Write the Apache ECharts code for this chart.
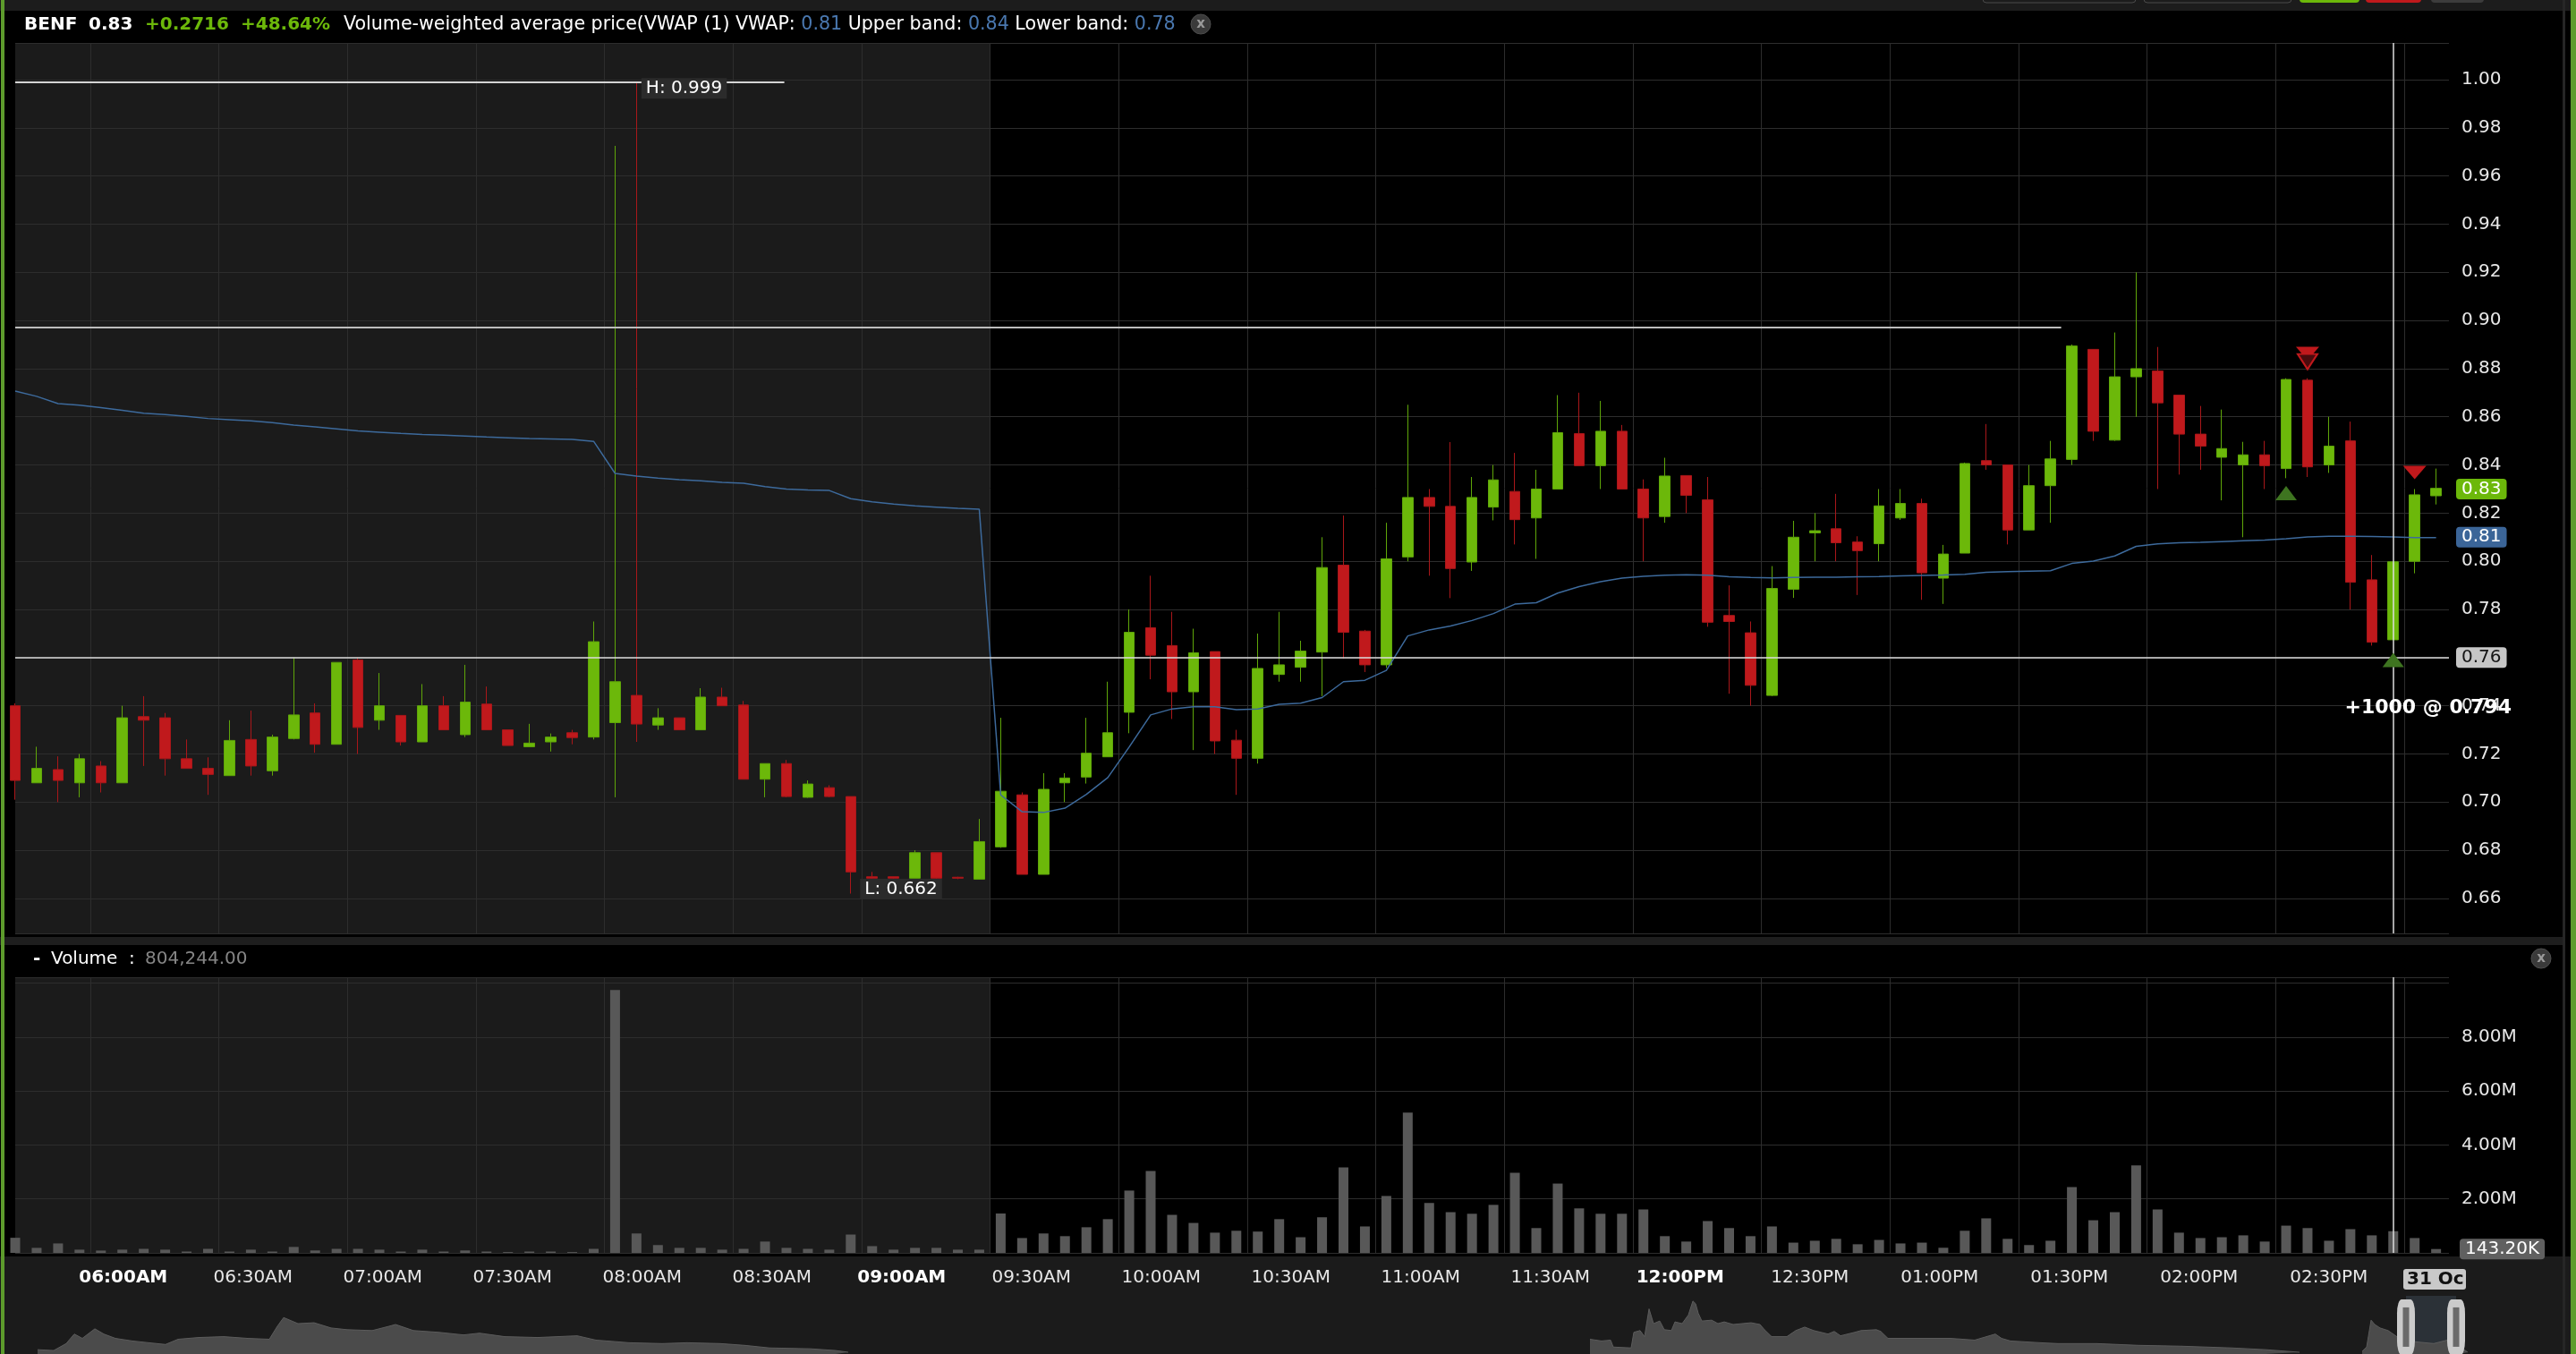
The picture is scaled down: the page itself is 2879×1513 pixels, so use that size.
<!DOCTYPE html>
<html>
<head>
<meta charset="utf-8">
<title>BENF intraday</title>
<script src="https://cdn.jsdelivr.net/npm/echarts@6/dist/echarts.min.js"></script>
<style>
html,body{margin:0;padding:0;background:#000;overflow:hidden;}
#chart{width:2879px;height:1513px;}
</style>
</head>
<body>
<div id="chart"></div>
<script>
// ================= DATA =================
const symbolName = 'BENF';
const firstBarMinute = 5 * 60 + 40;   // 05:40, 5-minute bars
const barMinutes = 5;

const opens = [0.740,0.708,0.7135,0.708,0.715,0.708,0.7355,0.735,0.718,0.714,
0.711,0.726,0.713,0.7264,0.737,0.724,0.759,0.734,0.736,0.725,
0.740,0.728,0.7407,0.730,0.723,0.725,0.7288,0.727,0.733,0.7443,
0.732,0.735,0.730,0.7436,0.7403,0.7095,0.716,0.702,0.706,0.7023,
0.669,0.669,0.6684,0.679,0.6688,0.668,0.6814,0.703,0.670,0.708,
0.7104,0.7188,0.7373,0.7724,0.765,0.7458,0.7625,0.7257,0.7182,0.753,
0.756,0.7623,0.7984,0.771,0.757,0.8018,0.8265,0.8228,0.7997,0.8225,
0.829,0.818,0.830,0.853,0.8397,0.854,0.830,0.8186,0.8356,0.8255,
0.7775,0.7703,0.7443,0.7884,0.8118,0.8135,0.808,0.8073,0.818,0.824,
0.793,0.8034,0.8418,0.840,0.813,0.8314,0.8423,0.888,0.8503,0.8766,
0.879,0.869,0.8528,0.8432,0.840,0.8442,0.8385,0.8752,0.840,0.850,
0.7923,0.7674,0.800,0.8272];

const closes = [0.709,0.714,0.709,0.718,0.708,0.735,0.734,0.718,0.714,0.7115,
0.7256,0.715,0.727,0.7362,0.724,0.758,0.731,0.740,0.725,0.740,
0.730,0.7415,0.730,0.7235,0.7245,0.727,0.7268,0.7666,0.750,0.7324,
0.735,0.730,0.7436,0.740,0.7095,0.716,0.7023,0.7075,0.7023,0.671,
0.6684,0.6684,0.679,0.6684,0.6684,0.6836,0.7045,0.670,0.7053,0.710,
0.7203,0.7288,0.7705,0.761,0.7458,0.762,0.7254,0.7182,0.7555,0.757,
0.7627,0.7974,0.7705,0.757,0.801,0.8265,0.8228,0.797,0.8265,0.8338,
0.8173,0.830,0.8534,0.8397,0.854,0.830,0.818,0.8354,0.8274,0.7747,
0.775,0.7485,0.7887,0.810,0.8127,0.8077,0.8044,0.823,0.824,0.7952,
0.803,0.8406,0.840,0.813,0.8314,0.8425,0.8894,0.854,0.8766,0.880,
0.8658,0.8528,0.8478,0.8468,0.8442,0.8397,0.8755,0.8392,0.8478,0.7913,
0.7664,0.7998,0.8276,0.8303];

const lows = [0.701,0.708,0.700,0.702,0.704,0.708,0.715,0.711,0.714,0.703,
0.711,0.711,0.711,0.726,0.7205,0.724,0.720,0.730,0.7235,0.725,
0.730,0.727,0.730,0.7235,0.723,0.721,0.724,0.726,0.702,0.725,
0.730,0.730,0.730,0.740,0.7095,0.702,0.702,0.7018,0.702,0.662,
0.668,0.668,0.6684,0.668,0.668,0.668,0.681,0.670,0.670,0.700,
0.7077,0.7188,0.7286,0.751,0.7345,0.7216,0.720,0.703,0.716,0.750,
0.750,0.744,0.7595,0.754,0.7557,0.800,0.794,0.7847,0.796,0.817,
0.807,0.801,0.830,0.8397,0.830,0.830,0.800,0.816,0.820,0.7728,
0.745,0.740,0.744,0.7848,0.800,0.800,0.786,0.800,0.8172,0.784,
0.7823,0.8034,0.838,0.807,0.813,0.816,0.840,0.850,0.850,0.860,
0.830,0.836,0.838,0.8253,0.810,0.830,0.8345,0.835,0.8367,0.780,
0.765,0.7674,0.795,0.8236];

const highs = [0.741,0.723,0.719,0.720,0.717,0.740,0.744,0.737,0.726,0.7186,
0.734,0.738,0.728,0.760,0.741,0.758,0.760,0.7536,0.736,0.749,
0.744,0.757,0.748,0.730,0.7325,0.7285,0.730,0.775,0.9725,0.999,
0.739,0.735,0.7473,0.7475,0.742,0.716,0.7175,0.709,0.707,0.7023,
0.671,0.669,0.680,0.679,0.669,0.693,0.735,0.704,0.712,0.712,
0.735,0.750,0.780,0.794,0.779,0.772,0.7625,0.730,0.770,0.779,
0.767,0.810,0.819,0.7715,0.816,0.865,0.830,0.8495,0.835,0.840,
0.845,0.838,0.869,0.870,0.8666,0.8566,0.834,0.843,0.8356,0.835,
0.790,0.775,0.798,0.8168,0.820,0.828,0.8104,0.830,0.830,0.826,
0.8068,0.841,0.857,0.840,0.840,0.850,0.890,0.888,0.895,0.920,
0.889,0.869,0.8645,0.863,0.8496,0.850,0.876,0.876,0.860,0.858,
0.8026,0.800,0.830,0.8385];

const vwap = [0.8707,0.8685,0.8655,0.8648,0.8638,0.8627,0.8615,0.8609,0.8602,0.8593,
0.8588,0.8583,0.8576,0.8566,0.8558,0.855,0.8541,0.8536,0.8531,0.8527,
0.8524,0.852,0.8516,0.8513,0.851,0.8508,0.8506,0.8498,0.8365,0.8354,
0.8345,0.8339,0.8334,0.8328,0.8324,0.831,0.83,0.8296,0.8294,0.826,
0.8247,0.8238,0.823,0.8225,0.822,0.8216,0.703,0.696,0.6957,0.6975,
0.7032,0.7102,0.7229,0.7362,0.7387,0.7396,0.7396,0.7384,0.7387,0.7406,
0.7411,0.7434,0.75,0.7506,0.7547,0.769,0.7715,0.7731,0.7754,0.7783,
0.7822,0.7828,0.7868,0.7895,0.7915,0.793,0.7938,0.7942,0.7944,0.7942,
0.7936,0.7933,0.7931,0.7933,0.7934,0.7934,0.7936,0.7937,0.7939,0.7941,
0.7943,0.7946,0.7954,0.7957,0.7959,0.7961,0.7991,0.8001,0.8022,0.8062,
0.8072,0.8077,0.8079,0.8082,0.8085,0.8088,0.8094,0.8101,0.8104,0.8104,
0.8103,0.8101,0.8098,0.8098];

const volumes = [560000,186000,350000,120000,86000,120000,150000,120000,50000,150000,
50000,120000,50000,220000,90000,150000,150000,120000,50000,120000,
50000,90000,50000,30000,50000,50000,30000,150000,9750000,720000,
290000,186000,186000,120000,150000,420000,186000,150000,120000,680000,
250000,120000,186000,186000,120000,120000,1460000,550000,720000,620000,
950000,1250000,2310000,3040000,1410000,1110000,750000,820000,790000,1250000,
580000,1320000,3170000,980000,2110000,5200000,1850000,1510000,1450000,1780000,
2970000,920000,2570000,1650000,1450000,1450000,1610000,620000,420000,1180000,
920000,620000,980000,380000,450000,520000,320000,480000,350000,380000,
190000,820000,1280000,520000,290000,450000,2440000,1210000,1510000,3240000,
1610000,750000,550000,580000,650000,420000,1010000,920000,450000,880000,
650000,804244,550000,143200];

const xTickTimes = ['06:00','06:30','07:00','07:30','08:00','08:30','09:00','09:30','10:00',
  '10:30','11:00','11:30','12:00','12:30','13:00','13:30','14:00','14:30'];
const xTickTexts = ['06:00AM','06:30AM','07:00AM','07:30AM','08:00AM','08:30AM','09:00AM','09:30AM','10:00AM',
  '10:30AM','11:00AM','11:30AM','12:00PM','12:30PM','01:00PM','01:30PM','02:00PM','02:30PM'];
const boldTickTexts = ['06:00AM','09:00AM','12:00PM'];
const extraGridTimes = ['15:00'];
const sessionOpenTime = '09:30';
const dateTag = '31 Oc';

// trade signals (arrow markers) and the order note
const signals = [
  {k:106, side:'buy',  at:0.8283},
  {k:107, side:'sell', at:0.8863},
  {k:107, side:'sell2',at:0.8829},
  {k:111, side:'buy',  at:0.7590},
  {k:112, side:'sell', at:0.8369}
];
const orders = [{k:111, qty:1000, price:0.794, labelAt:0.7391}];
const crosshair = {k:111, price:0.758};
const refLevel = {price:0.897, toK:95.5};
const hiLineToK = 35.9;

const headerStats = {last:'0.83', change:'+0.2716', pct:'+48.64%', vwapTitle:'Volume-weighted average price(VWAP (1) VWAP: ', vwap:'0.81', upper:'0.84', lower:'0.78'};

// navigator mountain: [position along strip, level]
const navPoints = [
 [42,5],[60,4],[74,12],[83,23],[92,18],[106,29],[116,23],[129,18],[148,15],[166,13],[185,11],[199,17],[222,19],[250,20],[277,18],[301,17],[310,32],[317,42],[333,35],[351,36],[370,30],[388,28],[416,27],[435,32],[442,34],[462,27],[490,25],[518,22],[536,24],[564,20],[601,19],[645,21],[666,16],[703,13],[740,12],[768,13],[805,12],[832,10],[860,7],[906,6],[934,4],[948,2],
 [960,null],
 [1777,17],[1790,15],[1800,16],[1803,8],[1823,7],[1826,25],[1833,27],[1838,20],[1843,52],[1848,35],[1855,38],[1860,28],[1868,27],[1872,37],[1880,35],[1887,45],[1892,61],[1895,58],[1898,47],[1902,38],[1913,39],[1920,35],[1927,37],[1937,34],[1957,36],[1967,34],[1972,28],[1980,20],[1997,20],[2007,27],[2017,31],[2027,27],[2043,23],[2050,26],[2057,21],[2073,25],[2080,27],[2097,28],[2102,26],[2110,18],[2130,18],[2147,18],[2180,18],[2207,16],[2230,23],[2237,18],[2247,15],[2280,13],[2300,12],[2343,12],[2390,10],[2438,9],[2494,7],[2532,5],[2570,2],
 [2600,null],
 [2640,3],[2645,8],[2650,39],[2654,34],[2660,30],[2669,27],[2683,17],[2700,14],[2720,12],[2739,17],[2750,8],[2758,2]
];
const navWindow = [2689, 2745];

// ================= BUILD =================
const FONT = 'DejaVu Sans';
const N = opens.length;
const categories = opens.map((_, i) => {
  const m = firstBarMinute + i * barMinutes;
  return String(Math.floor(m / 60)).padStart(2, '0') + ':' + String(m % 60).padStart(2, '0');
});
const gridBounds = xTickTimes.concat(extraGridTimes).map(t => [categories.indexOf(t) - 0.5, 0]);
const premarketEnd = categories.indexOf(sessionOpenTime) - 0.5;

const hiVal = Math.max(...highs), hiIdx = highs.indexOf(hiVal);
const loVal = Math.min(...lows), loIdx = lows.indexOf(loVal);
const lastClose = closes[N - 1];
const lastVwap = vwap[N - 1];
const lastVol = volumes[N - 1];

const GREEN = '#6cb80a', RED = '#c0191c', BLUE = '#3d6a9c';
const GRID_COLOR = '#2d2d2d';
const CLEAR = 'rgba(0,0,0,0)';

function shadeItem(params, api) {
  const cs = params.coordSys;
  const x0 = api.coord([api.value(0), api.value(1)])[0];
  const x1 = api.coord([api.value(2), api.value(1)])[0];
  return {type: 'rect', shape: {x: x0, y: cs.y, width: x1 - x0, height: cs.height}, style: {fill: '#1b1b1b'}};
}
function vlineItem(params, api) {
  const cs = params.coordSys;
  const x = Math.round(api.coord([api.value(0), api.value(1)])[0]) + 0.5;
  return {type: 'line', shape: {x1: x, y1: cs.y, x2: x, y2: cs.y + cs.height}, style: {stroke: GRID_COLOR, lineWidth: 1}};
}

function badge(bg, fg) {
  return {show: true, position: 'end', distance: 8, color: fg, backgroundColor: bg, borderRadius: 4,
          padding: [1, 6, 0, 6], fontSize: 20, fontFamily: FONT, lineHeight: 22, opacity: 1};
}
const solid = (c, w) => ({color: c, width: w, type: 'solid'});

const signalPoints = [];
signals.forEach(s => {
  if (s.side === 'buy') {
    signalPoints.push({coord: [s.k, s.at], symbol: 'triangle', symbolSize: [24, 16], itemStyle: {color: '#3e7420'}});
  } else if (s.side === 'sell') {
    signalPoints.push({coord: [s.k, s.at], symbol: 'triangle', symbolRotate: 180, symbolSize: [26, 15], itemStyle: {color: RED}});
  } else {
    signalPoints.push({coord: [s.k, s.at], symbol: 'triangle', symbolRotate: 180, symbolSize: [22, 17], itemStyle: {color: '#4a0b0d', borderColor: RED, borderWidth: 2}});
  }
});
const invisible = {symbol: 'circle', symbolSize: 1, itemStyle: {color: CLEAR}};

const textPoints = [
  Object.assign({coord: [hiIdx, hiVal], label: {show: true, position: 'right', distance: 5, offset: [0, 7], formatter: 'H: ' + hiVal,
    color: '#fff', backgroundColor: '#2b2b2b', padding: [2, 5, 1, 5], fontSize: 20, fontFamily: FONT}}, invisible),
  Object.assign({coord: [loIdx, loVal], label: {show: true, position: 'right', distance: 10, offset: [0, -5], formatter: 'L: ' + loVal,
    color: '#fff', backgroundColor: '#2b2b2b', padding: [2, 5, 1, 5], fontSize: 20, fontFamily: FONT}}, invisible),
  ...orders.map(o => Object.assign({coord: [o.k, o.labelAt], label: {show: true, position: 'inside', offset: [39, 0],
    formatter: '+' + o.qty + ' @ ' + o.price, color: '#fff', fontWeight: 'bold', fontSize: 22, fontFamily: FONT}}, invisible))
];

function txt(x, y, text, fill, weight, size, align) {
  return {type: 'text', x: x, y: y, z: 100, silent: true,
    style: {text: text, fill: fill, font: (weight || 'normal') + ' ' + (size || 20) + 'px "DejaVu Sans"',
            align: align || 'left', verticalAlign: 'middle'}};
}
function rect(x, y, w, h, fill, z, extra) {
  return {type: 'rect', z: z, silent: true, shape: Object.assign({x: x, y: y, width: w, height: h}, extra || {}), style: {fill: fill}};
}
function closeIcon(cx, cy) {
  return [
    {type: 'circle', z: 100, silent: true, shape: {cx: cx, cy: cy, r: 11}, style: {fill: '#3a3a3a', stroke: '#4d4d4d', lineWidth: 1}},
    txt(cx, cy, 'x', '#9a9a9a', 'bold', 15, 'center')
  ];
}

const volText = volumes[crosshair.k].toLocaleString('en-US', {minimumFractionDigits: 2, maximumFractionDigits: 2});
const HDR_FONT = '20.6px "DejaVu Sans"';

const graphics = [
  rect(0, 0, 2879, 12, '#1c1c1c', -100),
  rect(0, 1047, 2866, 9, '#1e1e1e', -100),
  rect(0, 1404, 2879, 109, '#1b1b1b', -100),
  rect(2864, 0, 3, 1513, '#262626', 90),
  rect(1, 0, 4, 1513, '#5d9b2c', 90),
  rect(2873, 0, 6, 1513, '#5d9b2c', 90),
  // toolbar buttons peeking in at the top
  {type: 'rect', z: 90, silent: true, shape: {x: 2216, y: -14, width: 171, height: 17, r: 4}, style: {fill: '#1c1c1c', stroke: '#4a4a4a', lineWidth: 1}},
  {type: 'rect', z: 90, silent: true, shape: {x: 2396, y: -14, width: 165, height: 17, r: 4}, style: {fill: '#1c1c1c', stroke: '#4a4a4a', lineWidth: 1}},
  rect(2570, -14, 67, 17, GREEN, 90, {r: 4}),
  rect(2644, -14, 62, 17, RED, 90, {r: 4}),
  rect(2717, -14, 59, 17, '#3c3c3c', 90, {r: 4}),
  // header
  txt(27, 28, symbolName, '#fff', 'bold'),
  txt(99, 28, headerStats.last, '#fff', 'bold'),
  txt(162, 28, headerStats.change, GREEN, 'bold'),
  txt(269, 28, headerStats.pct, GREEN, 'bold'),
  {type: 'text', x: 384, y: 28, z: 100, silent: true, style: {
    text: '{w|' + headerStats.vwapTitle + '}{v|' + headerStats.vwap + '}{w| Upper band: }{v|' + headerStats.upper + '}{w| Lower band: }{v|' + headerStats.lower + '}',
    font: HDR_FONT, verticalAlign: 'middle', align: 'left',
    rich: {w: {fill: '#ffffff', font: HDR_FONT}, v: {fill: '#4a78b0', font: HDR_FONT}}}},
  ...closeIcon(1342, 27),
  // volume pane header
  txt(37, 1072, '-', '#fff', 'bold'),
  txt(57, 1072, 'Volume', '#fff'),
  txt(144, 1072, ':', '#fff'),
  txt(162, 1072, volText, '#858585'),
  ...closeIcon(2840, 1071),
  // date tag on the time axis
  rect(2686, 1418, 70, 23, '#c9c9c9', 100, {r: 3}),
  txt(2690, 1430, dateTag, '#111', 'bold')
];

const option = {
  backgroundColor: '#000',
  animation: false,
  textStyle: {fontFamily: FONT},
  grid: [
    {left: 17, top: 48, width: 2720, height: 995},
    {left: 17, top: 1092, width: 2720, height: 308},
    {left: 29, top: 1092, width: 2755, height: 308},
    {left: 0, top: 1448, width: 2879, height: 67}
  ],
  xAxis: [
    {type: 'value', gridIndex: 0, min: 0, max: 113.6, show: false},
    {type: 'value', gridIndex: 1, min: 0, max: 113.6, show: false},
    {type: 'category', gridIndex: 2, data: categories, boundaryGap: true,
      axisLine: {show: false}, axisTick: {show: false}, splitLine: {show: false},
      axisLabel: {
        interval: (i, v) => xTickTimes.indexOf(v) >= 0,
        formatter: v => {
          const t = xTickTexts[xTickTimes.indexOf(v)];
          return boldTickTexts.indexOf(t) >= 0 ? '{b|' + t + '}' : t;
        },
        color: '#e6e6e6', fontSize: 20, fontFamily: FONT, margin: 18,
        rich: {b: {fontWeight: 'bold', color: '#ffffff', fontSize: 20, fontFamily: FONT}}
      }},
    {type: 'value', gridIndex: 3, min: 0, max: 2879, show: false}
  ],
  yAxis: [
    {type: 'value', gridIndex: 0, position: 'right', min: 0.64548, max: 1.01524, splitNumber: 18, scale: true,
      axisLine: {show: false}, axisTick: {show: false},
      splitLine: {lineStyle: {color: GRID_COLOR, width: 1}},
      axisLabel: {color: '#e8e8e8', fontSize: 20, fontFamily: FONT, margin: 14, showMinLabel: false, showMaxLabel: false,
        formatter: v => v.toFixed(2)}},
    {type: 'value', gridIndex: 1, position: 'right', min: 0, max: 10220000, splitNumber: 5,
      axisLine: {show: false}, axisTick: {show: false},
      splitLine: {lineStyle: {color: GRID_COLOR, width: 1}},
      axisLabel: {color: '#e8e8e8', fontSize: 20, fontFamily: FONT, margin: 14,
        formatter: v => (v > 0 && v < 1e7) ? (v / 1e6).toFixed(2) + 'M' : ''}},
    {type: 'value', gridIndex: 2, show: false},
    {type: 'value', gridIndex: 3, min: 0, max: 67, show: false}
  ],
  series: [
    // ---- price pane ----
    {type: 'custom', name: 'premarket', xAxisIndex: 0, yAxisIndex: 0, z: -1, silent: true,
      renderItem: shadeItem, data: [[0, 0.8, premarketEnd]]},
    {type: 'custom', name: 'vgrid', xAxisIndex: 0, yAxisIndex: 0, z: 1, silent: true,
      renderItem: vlineItem, data: gridBounds.map(b => [b[0], 0.8])},
    {type: 'candlestick', name: symbolName, xAxisIndex: 0, yAxisIndex: 0, z: 2, silent: true, barWidth: 12, clip: true,
      data: opens.map((o, i) => [i, o, closes[i], lows[i], highs[i]]),
      itemStyle: {color: GREEN, color0: RED, borderColor: '#5fa609', borderColor0: '#a9171a', borderWidth: 1}},
    {type: 'line', name: 'VWAP', xAxisIndex: 0, yAxisIndex: 0, z: 3, silent: true, symbol: 'none',
      data: vwap.map((v, i) => [i, v]), lineStyle: {color: BLUE, width: 1.5}},
    {type: 'line', name: 'overlay', xAxisIndex: 0, yAxisIndex: 0, z: 5, silent: true, clip: false, data: [],
      markLine: {silent: true, animation: false, symbol: ['none', 'none'], label: {show: false}, lineStyle: solid('#ccc', 1),
        data: [
          [{coord: [0, hiVal], lineStyle: solid('#d4d4d4', 2)}, {coord: [hiLineToK, hiVal]}],
          [{coord: [0, refLevel.price], lineStyle: solid('#bdbdbd', 2)}, {coord: [refLevel.toK, refLevel.price]}],
          {xAxis: crosshair.k, lineStyle: solid('#dedede', 1.5)},
          {yAxis: crosshair.price, lineStyle: solid('#dedede', 1.5),
            label: Object.assign(badge('#c6c6c6', '#151515'), {formatter: p => Number(p.value).toFixed(2)})},
          {yAxis: lastClose, lineStyle: solid(CLEAR, 1),
            label: Object.assign(badge(GREEN, '#fff'), {formatter: p => Number(p.value).toFixed(2)})},
          {yAxis: lastVwap, lineStyle: solid(CLEAR, 1),
            label: Object.assign(badge('#3b6598', '#fff'), {formatter: p => Number(p.value).toFixed(2)})}
        ]},
      markPoint: {silent: true, animation: false, data: signalPoints.concat(textPoints)}
    },
    // ---- volume pane ----
    {type: 'custom', name: 'premarketVol', xAxisIndex: 1, yAxisIndex: 1, z: -1, silent: true,
      renderItem: shadeItem, data: [[0, 1, premarketEnd]]},
    {type: 'custom', name: 'vgridVol', xAxisIndex: 1, yAxisIndex: 1, z: 1, silent: true,
      renderItem: vlineItem, data: gridBounds.map(b => [b[0], 1])},
    {type: 'bar', name: 'Volume', xAxisIndex: 1, yAxisIndex: 1, z: 2, silent: true, barWidth: 11,
      data: volumes.map((v, i) => [i, v]), itemStyle: {color: '#585858'}},
    {type: 'line', name: 'volOverlay', xAxisIndex: 1, yAxisIndex: 1, z: 5, silent: true, clip: false, data: [],
      markLine: {silent: true, animation: false, symbol: ['none', 'none'], label: {show: false},
        data: [
          {xAxis: crosshair.k, lineStyle: solid('#dedede', 1.5)},
          {yAxis: lastVol, lineStyle: solid(CLEAR, 1),
            label: Object.assign(badge('#606060', '#fff'), {distance: 12, formatter: p => (Number(p.value) / 1000).toFixed(2) + 'K'})}
        ]}},
    // ---- navigator ----
    {type: 'line', name: 'navigator', xAxisIndex: 3, yAxisIndex: 3, z: 2, silent: true, symbol: 'none',
      data: navPoints, connectNulls: false,
      lineStyle: {color: '#5c5c5c', width: 1}, areaStyle: {color: '#4b4b4b', opacity: 1},
      markArea: {silent: true, itemStyle: {color: '#2b3137'}, data: [[{xAxis: navWindow[0]}, {xAxis: navWindow[1]}]]},
      markPoint: {silent: true, animation: false, data: [
        {coord: [navWindow[0], 31], symbol: 'roundRect', symbolSize: [20, 62], itemStyle: {color: '#cbcbcb'}},
        {coord: [navWindow[0], 31], symbol: 'rect', symbolSize: [7, 44], itemStyle: {color: '#6a6a6a'}},
        {coord: [navWindow[1], 31], symbol: 'roundRect', symbolSize: [20, 62], itemStyle: {color: '#cbcbcb'}},
        {coord: [navWindow[1], 31], symbol: 'rect', symbolSize: [7, 44], itemStyle: {color: '#6a6a6a'}}
      ]}}
  ],
  graphic: graphics
};

const chart = echarts.init(document.getElementById('chart'), null, {renderer: 'canvas', width: 2879, height: 1513});
chart.setOption(option);
</script>
</body>
</html>
